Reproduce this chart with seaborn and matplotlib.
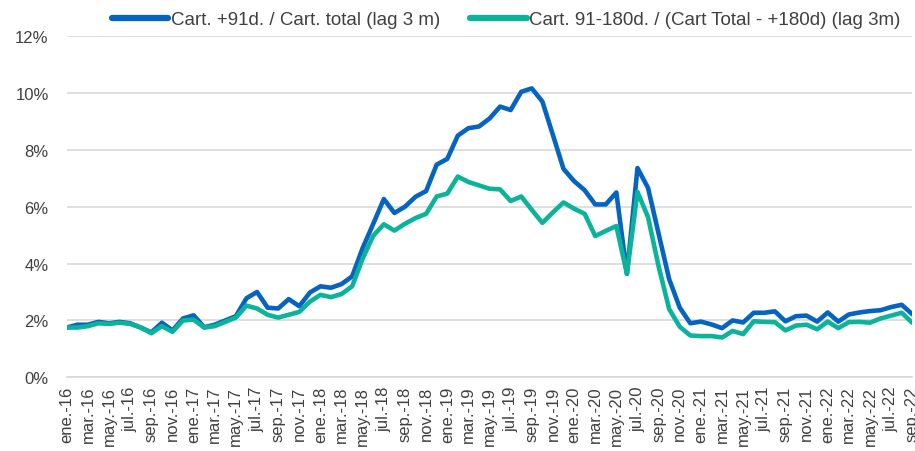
import pandas as pd
import numpy as np
import matplotlib.pyplot as plt
import matplotlib.ticker as mticker
import seaborn as sns

# Meses (ene.-16 a sep.-22)
meses_abrev = ["ene.", "feb.", "mar.", "abr.", "may.", "jun.",
               "jul.", "ago.", "sep.", "oct.", "nov.", "dic."]
years = range(16, 23)
meses = [f"{m}-{y}" for y in years for m in meses_abrev][:81]

# Serie 1: Cart. +91d / Cart. total (en %)
cart_91 = [1.75, 1.85, 1.85, 1.95, 1.9, 1.95, 1.9, 1.75, 1.58, 1.92, 1.65, 2.07,
           2.18, 1.76, 1.85, 2.0, 2.15, 2.78, 3.0, 2.45, 2.42, 2.75, 2.5, 2.98,
           3.2, 3.15, 3.28, 3.55, 4.55, 5.4, 6.27, 5.78, 6.0, 6.35, 6.55, 7.48,
           7.68, 8.5, 8.76, 8.82, 9.1, 9.52, 9.4, 10.04, 10.16, 9.7, 8.52, 7.33,
           6.9, 6.58, 6.08, 6.08, 6.5, 3.64, 7.36, 6.66, 5.05, 3.45, 2.45, 1.9,
           1.96, 1.86, 1.73, 2.0, 1.93, 2.27, 2.27, 2.32, 1.97, 2.15, 2.17, 1.96,
           2.28, 1.96, 2.21, 2.28, 2.33, 2.36, 2.47, 2.55, 2.22]

# Serie 2: Cart. 91-180d / (Cart Total - +180d) (en %)
cart_91_180 = [1.75, 1.75, 1.8, 1.9, 1.88, 1.92, 1.88, 1.75, 1.55, 1.8, 1.6, 2.0,
               2.03, 1.75, 1.8, 1.95, 2.1, 2.52, 2.42, 2.2, 2.1, 2.2, 2.3, 2.66,
               2.9, 2.82, 2.93, 3.2, 4.18, 4.98, 5.38, 5.16, 5.4, 5.6, 5.75, 6.36,
               6.46, 7.06, 6.87, 6.75, 6.63, 6.61, 6.2, 6.36, 5.89, 5.43, 5.8, 6.15,
               5.93, 5.75, 4.97, 5.15, 5.32, 3.64, 6.52, 5.63, 3.9, 2.4, 1.78, 1.47,
               1.45, 1.45, 1.4, 1.63, 1.52, 1.97, 1.95, 1.94, 1.65, 1.82, 1.85, 1.69,
               1.96, 1.73, 1.94, 1.95, 1.92, 2.07, 2.17, 2.27, 1.92]

serie1 = "Cart. +91d. / Cart. total (lag 3 m)"
serie2 = "Cart. 91-180d. / (Cart Total - +180d) (lag 3m)"

df = pd.DataFrame({
    "mes": list(range(len(meses))) * 2,
    "valor": np.array(cart_91 + cart_91_180) / 100,
    "serie": [serie1] * len(cart_91) + [serie2] * len(cart_91_180),
})

sns.set_style("white")
plt.rcParams["font.family"] = ["Liberation Sans", "DejaVu Sans"]

fig, ax = plt.subplots(figsize=(9.15, 4.52), dpi=100)
fig.subplots_adjust(left=0.073, right=0.997, top=0.918, bottom=0.163)

sns.lineplot(data=df, x="mes", y="valor", hue="serie",
             palette=["#0563C1", "#0BB39A"], linewidth=3.3, ax=ax)

ax.set_ylim(0, 0.12)
ax.set_xlim(0, len(meses) - 1)
ax.yaxis.set_major_locator(mticker.MultipleLocator(0.02))
ax.yaxis.set_major_formatter(mticker.PercentFormatter(1.0, decimals=0))
ax.grid(axis="y", color="#D9D9D9", linewidth=1.2)
ax.set_axisbelow(True)

ax.set_xticks(range(0, len(meses), 2))
ax.set_xticklabels(meses[::2], rotation=90, fontsize=12, color="#404040")
ax.tick_params(axis="y", labelsize=12, colors="#404040", length=0, pad=13)
ax.tick_params(axis="x", length=0, pad=6)
ax.set_xlabel("")
ax.set_ylabel("")

for s in ["top", "right", "left"]:
    ax.spines[s].set_visible(False)
ax.spines["bottom"].set_color("#D9D9D9")
ax.spines["bottom"].set_linewidth(1.2)

leg = ax.legend(loc="lower center", bbox_to_anchor=(0.52, 0.99), ncol=2,
                frameon=False, fontsize=13.5, handlelength=3.0, handletextpad=0.15,
                columnspacing=1.6, borderaxespad=0.2)
for t in leg.get_texts():
    t.set_color("#404040")
for h in leg.get_lines():
    h.set_linewidth(4.5)

plt.savefig("out.png", dpi=100)
